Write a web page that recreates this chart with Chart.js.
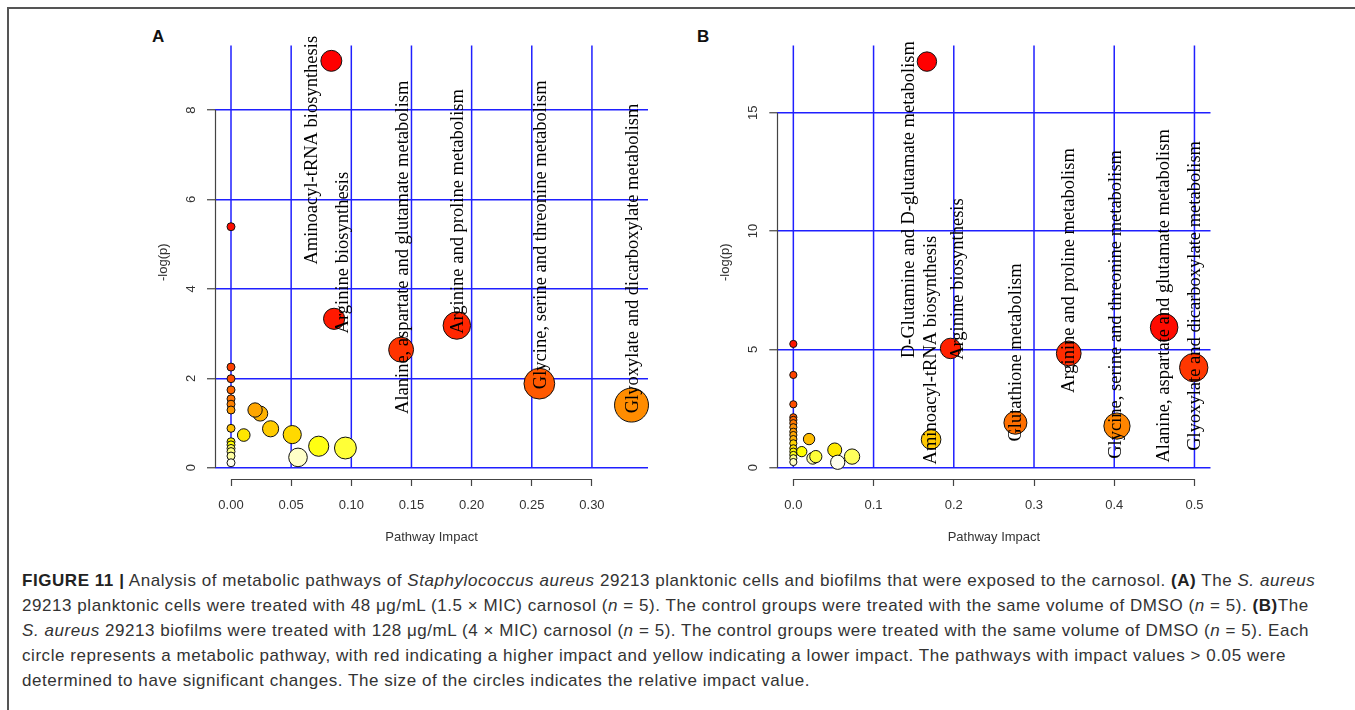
<!DOCTYPE html>
<html>
<head>
<meta charset="utf-8">
<script src="https://cdn.jsdelivr.net/npm/chart.js@4.4.1/dist/chart.umd.min.js"></script>
<style>
  html, body { margin: 0; padding: 0; background: #fff; }
  body { width: 1355px; height: 710px; position: relative; overflow: hidden; font-family: "Liberation Sans", Arial, sans-serif; }
  .cadre { position: absolute; left: 7px; top: 7px; width: 1360px; height: 720px; border-top: 2px solid #555; border-left: 2px solid #555; }
  canvas { position: absolute; top: 20px; }
  #graphA { left: 140px; }
  #graphB { left: 700px; }
  .lettre { position: absolute; top: 27px; font-weight: bold; font-size: 17px; color: #111; }
  .legende { position: absolute; left: 22px; top: 568px; font-size: 17px; letter-spacing: 0.55px; line-height: 25px; color: #333; white-space: nowrap; }
  .legende b { color: #222; }
</style>
</head>
<body>
<div class="cadre"></div>
<div class="lettre" style="left:152px">A</div>
<div class="lettre" style="left:697px">B</div>
<canvas id="graphA" width="530" height="540"></canvas>
<canvas id="graphB" width="540" height="540"></canvas>
<div class="legende">
<b>FIGURE 11 |</b> Analysis of metabolic pathways of <i>Staphylococcus aureus</i> 29213 planktonic cells and biofilms that were exposed to the carnosol. <b>(A)</b> The <i>S. aureus</i><br>
29213 planktonic cells were treated with 48 μg/mL (1.5 × MIC) carnosol (<i>n</i> = 5). The control groups were treated with the same volume of DMSO (<i>n</i> = 5). <b>(B)</b>The<br>
<i>S. aureus</i> 29213 biofilms were treated with 128 μg/mL (4 × MIC) carnosol (<i>n</i> = 5). The control groups were treated with the same volume of DMSO (<i>n</i> = 5). Each<br>
circle represents a metabolic pathway, with red indicating a higher impact and yellow indicating a lower impact. The pathways with impact values &gt; 0.05 were<br>
determined to have significant changes. The size of the circles indicates the relative impact value.
</div>
<script>
// Panneau A : cellules planctoniques (impact de la voie, -log(p))
const impactA = [0.0834, 0.0857, 0.1414, 0.1877, 0.2563, 0.3329,
  0, 0, 0, 0, 0, 0, 0, 0, 0, 0, 0, 0, 0, 0,
  0.0951, 0.0729, 0.0557, 0.0509, 0.0329, 0.0243, 0.0200, 0.0106];
const logpA = [9.10, 3.33, 2.64, 3.18, 1.88, 1.40,
  5.39, 2.25, 1.99, 1.74, 1.54, 1.42, 1.29, 0.88, 0.58, 0.51, 0.43, 0.36, 0.26, 0.11,
  0.44, 0.48, 0.23, 0.74, 0.87, 1.21, 1.29, 0.73];
const nomsA = [
  "Aminoacyl-tRNA biosynthesis",
  "Arginine biosynthesis",
  "Alanine, aspartate and glutamate metabolism",
  "Arginine and proline metabolism",
  "Glycine, serine and threonine metabolism",
  "Glyoxylate and dicarboxylate metabolism",
];
const xTicksA = [0, 0.05, 0.10, 0.15, 0.20, 0.25, 0.30];
const yTicksA = [0, 2, 4, 6, 8];

// Panneau B : biofilms
const impactB = [0.1665, 0.1960, 0.1717, 0.2768, 0.3433, 0.4034, 0.4622, 0.4991,
  0, 0, 0, 0, 0, 0, 0, 0, 0, 0, 0, 0, 0, 0, 0, 0,
  0.0196, 0.0105, 0.0242, 0.0280, 0.0516, 0.0553, 0.0732];
const logpB = [17.16, 5.04, 1.19, 1.90, 4.83, 1.76, 5.93, 4.23,
  5.23, 3.92, 2.68, 2.13, 2.02, 1.88, 1.71, 1.52, 1.38, 1.21, 1.03, 0.82, 0.68, 0.54, 0.40, 0.24,
  1.21, 0.68, 0.40, 0.47, 0.75, 0.23, 0.47];
const nomsB = [
  "D-Glutamine and D-glutamate metabolism",
  "Arginine biosynthesis",
  "Aminoacyl-tRNA biosynthesis",
  "Glutathione metabolism",
  "Arginine and proline metabolism",
  "Glycine, serine and threonine metabolism",
  "Alanine, aspartate and glutamate metabolism",
  "Glyoxylate and dicarboxylate metabolism",
];
const xTicksB = [0, 0.1, 0.2, 0.3, 0.4, 0.5];
const yTicksB = [0, 5, 10, 15];

// Emplacement (centre) des étiquettes, en unités des axes
const posEtiquettesA = [[0.0677, 7.10], [0.0934, 4.81], [0.1429, 4.93], [0.1891, 5.73], [0.2577, 5.21], [0.3340, 4.68]];
const posEtiquettesB = [[0.1438, 11.33], [0.2060, 7.97], [0.1717, 4.97], [0.2777, 4.87], [0.3433, 8.33], [0.4026, 6.90], [0.4627, 7.26], [0.5013, 7.26]];

const BLEU = "#1f1fff";

// Palette heat.colors de R (rouge -> jaune -> blanc)
function heatColors(n) {
  const j = Math.floor(n / 4);
  const i = n - j;
  const cols = [];
  for (let k = 0; k < i; k++) {
    const h = i > 1 ? (k / (i - 1)) * 60 : 0;
    cols.push(`hsl(${h}, 100%, 50%)`);
  }
  for (let k = 0; k < j; k++) {
    const s0 = 1 - 1 / (2 * j), s1 = 1 / (2 * j);
    const s = j > 1 ? s0 + (k / (j - 1)) * (s1 - s0) : 0.5;
    cols.push(`rgb(255, 255, ${Math.round(255 * (1 - s))})`);
  }
  return cols;
}

// Couleur selon le rang de -log(p)
function couleursParRang(valeurs) {
  const palette = heatColors(valeurs.length);
  const ordre = valeurs.map((v, i) => i).sort((a, b) => valeurs[b] - valeurs[a]);
  const cols = new Array(valeurs.length);
  ordre.forEach((idx, rang) => { cols[idx] = palette[rang]; });
  return cols;
}

// Grille verticale, axes noirs façon R et étiquettes des voies
const tracesR = {
  id: "tracesR",
  beforeDatasetsDraw(chart, args, opts) {
    const { ctx, chartArea, scales: { x, y } } = chart;
    ctx.save();
    ctx.strokeStyle = BLEU;
    ctx.lineWidth = 1.5;
    opts.xTicks.forEach((v) => {
      const px = x.getPixelForValue(v);
      ctx.beginPath();
      ctx.moveTo(px, y.getPixelForValue(0));
      ctx.lineTo(px, chartArea.top);
      ctx.stroke();
    });
    ctx.restore();
  },
  afterDatasetsDraw(chart, args, opts) {
    const { ctx, scales: { x, y } } = chart;
    ctx.save();
    ctx.fillStyle = "#000";
    ctx.font = '18.5px "Liberation Serif", "Times New Roman", serif';
    ctx.textAlign = "center";
    ctx.textBaseline = "middle";
    opts.noms.forEach((nom, i) => {
      const [lx, ly] = opts.positions[i];
      ctx.save();
      ctx.translate(x.getPixelForValue(lx), y.getPixelForValue(ly));
      ctx.rotate(-Math.PI / 2);
      ctx.fillText(nom, 0, 0);
      ctx.restore();
    });
    ctx.restore();
  },
  afterDraw(chart, args, opts) {
    const { ctx, chartArea, scales: { x, y } } = chart;
    ctx.save();
    ctx.strokeStyle = "#444";
    ctx.lineWidth = 1.2;
    const gauche = Math.round(chartArea.left) + 0.5;
    const bas = Math.round(chartArea.bottom) + 0.5;
    ctx.beginPath();
    ctx.moveTo(gauche, y.getPixelForValue(opts.yTicks[0]));
    ctx.lineTo(gauche, y.getPixelForValue(opts.yTicks[opts.yTicks.length - 1]));
    ctx.moveTo(x.getPixelForValue(opts.xTicks[0]), bas);
    ctx.lineTo(x.getPixelForValue(opts.xTicks[opts.xTicks.length - 1]), bas);
    ctx.stroke();
    ctx.restore();
  },
};

function creerGraphique(id, impact, logp, noms, positions, reglages) {
  const ctx = document.getElementById(id).getContext("2d");
  const couleurs = couleursParRang(logp);
  const police = { family: '"Liberation Sans", Arial, sans-serif', size: 13 };
  return new Chart(ctx, {
    type: "scatter",
    data: {
      datasets: [
        {
          data: impact.map((v, i) => ({ x: v, y: logp[i] })),
          backgroundColor: couleurs,
          borderColor: "#111",
          borderWidth: 1,
          pointRadius: (c) => reglages.rayonMin + reglages.rayonPente * Math.sqrt(c.raw ? c.raw.x : 0),
          pointHoverRadius: (c) => reglages.rayonMin + reglages.rayonPente * Math.sqrt(c.raw ? c.raw.x : 0),
          clip: false,
        },
      ],
    },
    options: {
      responsive: false,
      animation: false,
      events: [],
      layout: { padding: { left: 0, top: 25.5, right: reglages.droite, bottom: 11 } },
      plugins: {
        legend: { display: false },
        tooltip: { enabled: false },
        tracesR: { xTicks: reglages.xTicks, yTicks: reglages.yTicks, noms: noms, positions: positions },
      },
      scales: {
        x: {
          type: "linear",
          min: reglages.xMin,
          max: reglages.xMax,
          afterBuildTicks: (axe) => { axe.ticks = reglages.xTicks.map((v) => ({ value: v })); },
          afterFit: (axe) => { axe.height = 70; },
          grid: { drawOnChartArea: false, drawTicks: true, tickLength: 7, tickColor: "#444", tickWidth: 1.2 },
          border: { display: false },
          ticks: {
            font: police,
            color: "#333",
            padding: 12,
            maxRotation: 0,
            callback: (v) => Number(v).toFixed(reglages.decimales),
          },
          title: { display: true, text: "Pathway Impact", font: police, color: "#333", padding: { top: 0, bottom: 4 } },
        },
        y: {
          type: "linear",
          min: reglages.yMin,
          max: reglages.yMax,
          afterBuildTicks: (axe) => { axe.ticks = reglages.yTicks.map((v) => ({ value: v })); },
          afterFit: (axe) => { axe.width = reglages.largeurY; },
          grid: { color: BLEU, lineWidth: 1.5, drawTicks: true, tickLength: 8, tickColor: "#444", tickWidth: 1.2 },
          border: { display: false },
          ticks: {
            font: police,
            color: "#333",
            padding: reglages.padY,
            minRotation: 90,
            maxRotation: 90,
            crossAlign: "center",
            callback: (v) => String(v),
          },
          title: { display: true, text: "-log(p)", font: police, color: "#333", padding: { top: reglages.padTitreY, bottom: 0 } },
        },
      },
    },
    plugins: [tracesR],
  });
}

document.addEventListener("DOMContentLoaded", () => {
  creerGraphique("graphA", impactA, logpA, nomsA, posEtiquettesA, {
    xMin: -0.0133, xMax: 0.3466, yMin: -0.253, yMax: 9.443,
    xTicks: xTicksA, yTicks: yTicksA, decimales: 2,
    largeurY: 75, droite: 22, padY: 11.7, padTitreY: 15.2,
    rayonMin: 4, rayonPente: 22.5,
  });
  creerGraphique("graphB", impactB, logpB, nomsB, posEtiquettesB, {
    xMin: -0.02, xMax: 0.52, yMin: -0.477, yMax: 17.84,
    xTicks: xTicksB, yTicks: yTicksB, decimales: 1,
    largeurY: 77.3, droite: 29.5, padY: 9.1, padTitreY: 17.2,
    rayonMin: 3.6, rayonPente: 15,
  });
});
</script>
</body>
</html>
